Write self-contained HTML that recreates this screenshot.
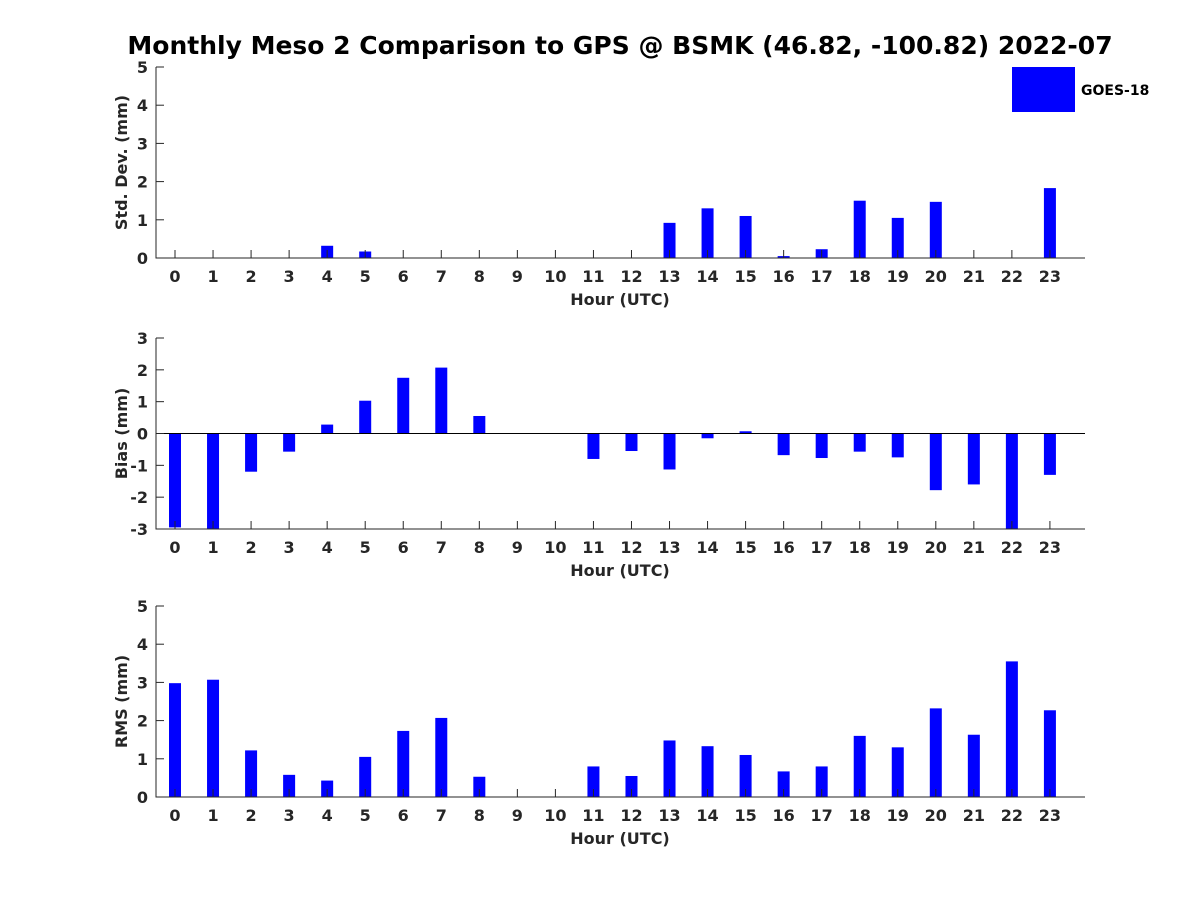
<!DOCTYPE html>
<html><head><meta charset="utf-8"><style>
body{margin:0;background:#fff;}
svg{display:block;font-family:"DejaVu Sans","Liberation Sans",sans-serif;font-weight:bold;}
</style></head><body>
<svg id="chart" width="1200" height="900" viewBox="0 0 1200 900" xmlns="http://www.w3.org/2000/svg">
<rect width="1200" height="900" fill="#fff"/>
<text x="620" y="54" text-anchor="middle" font-size="25" fill="#000">Monthly Meso 2 Comparison to GPS @ BSMK (46.82, -100.82) 2022-07</text>
<rect x="1012" y="67" width="63" height="45" fill="#0000ff"/>
<text x="1081" y="95" font-size="14" fill="#000">GOES-18</text>
</svg>
<script>
const hours = [0,1,2,3,4,5,6,7,8,9,10,11,12,13,14,15,16,17,18,19,20,21,22,23];
const stdDev = [0,0,0,0,0.32,0.17,0,0,0,0,0,0,0,0.92,1.3,1.1,0.05,0.23,1.5,1.05,1.47,0,0,1.83];
const bias = [-2.95,-3.2,-1.2,-0.57,0.28,1.03,1.75,2.07,0.55,0,0,-0.8,-0.55,-1.13,-0.15,0.07,-0.68,-0.77,-0.57,-0.75,-1.78,-1.6,-3.5,-1.3];
const rms = [2.98,3.07,1.22,0.58,0.43,1.05,1.73,2.07,0.53,0,0,0.8,0.55,1.48,1.33,1.1,0.67,0.8,1.6,1.3,2.32,1.63,3.55,2.27];
const stdTicks = [0,1,2,3,4,5];
const biasTicks = [-3,-2,-1,0,1,2,3];
const rmsTicks = [0,1,2,3,4,5];

const svg = document.getElementById('chart');
const NS = 'http://www.w3.org/2000/svg';
function mk(tag, attrs){const e=document.createElementNS(NS,tag);for(const k in attrs)e.setAttribute(k,attrs[k]);svg.appendChild(e);return e;}
const X0=156, X1=1085;
function xs(h){return 175 + h*38.04;}

function panel(key, top, bottom, ymin, ymax, vals, ticks, ylabel){
  const ys = v => bottom - (v-ymin)/(ymax-ymin)*(bottom-top);
  const clamp = v => Math.max(ymin, Math.min(ymax, v));
  vals.forEach((v,i)=>{
    const a = ys(clamp(0)), b = ys(clamp(v));
    const r = mk('rect',{x:xs(hours[i])-6,y:Math.min(a,b),width:12,height:Math.abs(a-b),fill:'#0000ff'});
    
    
  });
  if(ymin<0){
    const z = mk('line',{x1:X0,x2:X1,y1:ys(0),y2:ys(0),stroke:'#000','stroke-width':1});
    
    
  }
  const ax = mk('path',{d:`M${X0} ${top}V${bottom}H${X1}`,stroke:'#262626','stroke-width':1,fill:'none'});
  
  
  ticks.forEach(t=>{
    const y=ys(t);
    const l = mk('line',{x1:X0,x2:X0+8,y1:y,y2:y,stroke:'#262626'});
    
    
    const tx = mk('text',{x:X0-8,y:y+6,'text-anchor':'end','font-size':16,fill:'#262626'});
    tx.textContent = t;
    
    
  });
  hours.forEach(h=>{
    const x=xs(h);
    const l = mk('line',{x1:x,x2:x,y1:bottom,y2:bottom-8,stroke:'#262626'});
    
    
    const tx = mk('text',{x:x,y:bottom+24,'text-anchor':'middle','font-size':16,fill:'#262626'});
    tx.textContent = h;
    
    
  });
  const xl = mk('text',{x:620,y:bottom+47,'text-anchor':'middle','font-size':16,fill:'#262626'});
  xl.textContent='Hour (UTC)';
  
  
  const cy=(top+bottom)/2;
  const yl = mk('text',{x:127,y:cy,'text-anchor':'middle','font-size':16,fill:'#262626',transform:`rotate(-90 127 ${cy})`});
  yl.textContent=ylabel;
  
  
}
panel('std', 67, 258, 0, 5, stdDev, stdTicks, 'Std. Dev. (mm)');
panel('bias', 338, 529, -3, 3, bias, biasTicks, 'Bias (mm)');
panel('rms', 606, 797, 0, 5, rms, rmsTicks, 'RMS (mm)');
</script>
</body></html>
